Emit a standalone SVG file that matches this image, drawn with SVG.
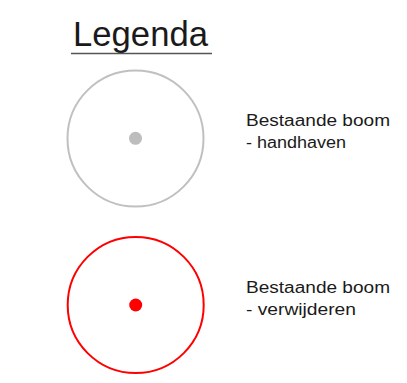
<svg xmlns="http://www.w3.org/2000/svg" width="407" height="383" viewBox="0 0 407 383">
<style>
.t{font-family:"Liberation Sans",Arial,sans-serif;fill:#1a1a1a}
.lbl{font-size:16px}
</style>
<rect width="407" height="383" fill="#ffffff"/>
<g id="title">
<text class="t" x="73" y="46" font-size="35" textLength="135" lengthAdjust="spacingAndGlyphs">Legenda</text>
<line x1="71" y1="53.5" x2="212" y2="53.5" stroke="#555555" stroke-width="1.5"/>
</g>
<g id="keep">
<circle cx="135.5" cy="138.5" r="68" fill="none" stroke="#c0c0c0" stroke-width="2"/>
<circle cx="135.5" cy="138.3" r="6.5" fill="#bdbdbd"/>
<text class="t lbl" x="246" y="126"><tspan textLength="144" lengthAdjust="spacingAndGlyphs">Bestaande boom</tspan><tspan x="246" y="148" textLength="100" lengthAdjust="spacingAndGlyphs">- handhaven</tspan></text>
</g>
<g id="remove">
<circle cx="135.7" cy="305" r="68" fill="none" stroke="#ff0000" stroke-width="2"/>
<circle cx="135.7" cy="305" r="6.5" fill="#ff0000"/>
<text class="t lbl" x="246" y="293"><tspan textLength="144" lengthAdjust="spacingAndGlyphs">Bestaande boom</tspan><tspan x="246" y="315" textLength="110" lengthAdjust="spacingAndGlyphs">- verwijderen</tspan></text>
</g>
</svg>
